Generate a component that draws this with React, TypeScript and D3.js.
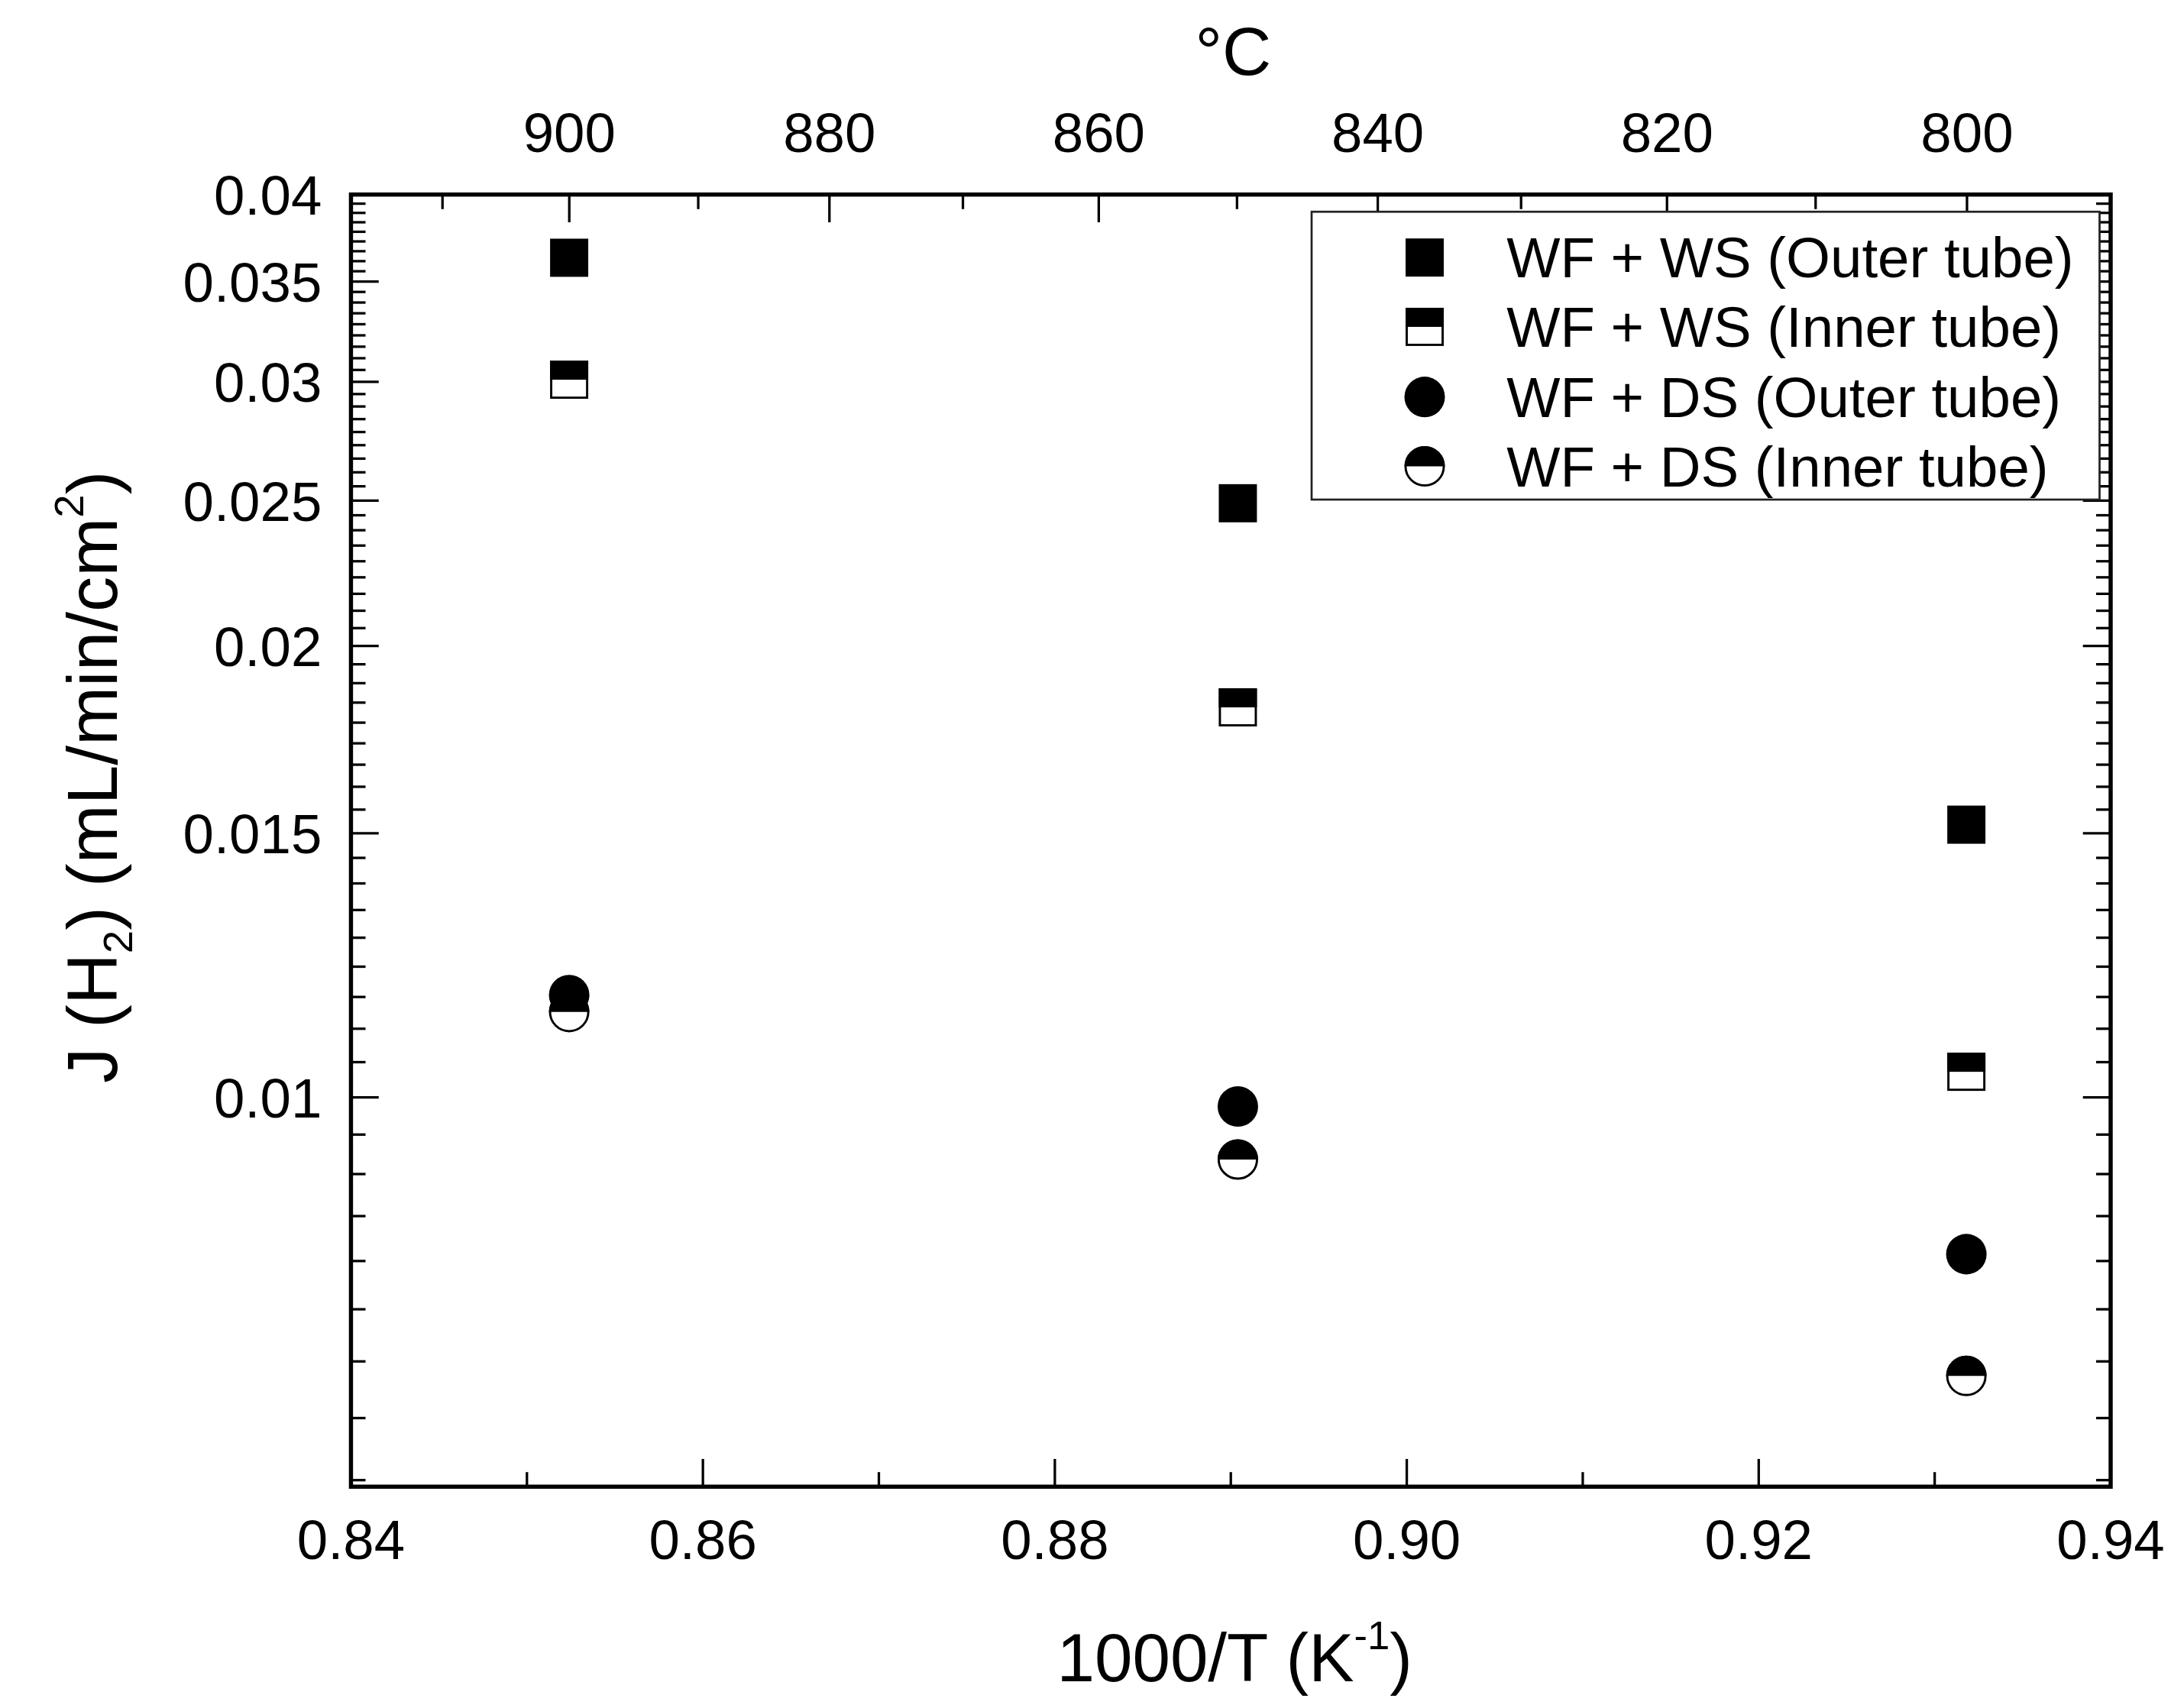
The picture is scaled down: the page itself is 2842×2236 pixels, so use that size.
import React from "react";
import * as d3 from "d3";

// 1000/T (K^-1) for 900, 850 and 800 °C
const invT = [0.8524, 0.8904, 0.9318];

const wsOuter = [0.0363, 0.0249, 0.0152];
const wsInner = [0.0301, 0.0182, 0.0104];
const dsOuter = [0.0117, 0.00986, 0.00786];
const dsInner = [0.0114, 0.00909, 0.00652];

const seriesNames = [
  "WF + WS (Outer tube)",
  "WF + WS (Inner tube)",
  "WF + DS (Outer tube)",
  "WF + DS (Inner tube)",
];
const seriesKinds = ["square", "halfSquare", "circle", "halfCircle"];

const xMajor = [0.84, 0.86, 0.88, 0.9, 0.92, 0.94];
const xMinor = [0.85, 0.87, 0.89, 0.91, 0.93];
const yMajor = [0.01, 0.015, 0.02, 0.025, 0.03, 0.035, 0.04];
const yMajorLabels = ["0.01", "0.015", "0.02", "0.025", "0.03", "0.035", "0.04"];
const cMajor = [900, 880, 860, 840, 820, 800];
const cMinor = [910, 890, 870, 850, 830, 810];

const W = 1565;
const H = 1231;
const FONT = "'Liberation Sans', Arial, Helvetica, sans-serif";

const margin = { left: 253, right: 1521.5, top: 140.1, bottom: 1071.6 };

function Marker({ kind, x, y }: { kind: string; x: number; y: number }) {
  const s = 27.5;
  const r = 14.6;
  const half = d3.arc<any>()({
    innerRadius: 0,
    outerRadius: r,
    startAngle: -Math.PI / 2,
    endAngle: Math.PI / 2,
  } as any) as string;
  if (kind === "square")
    return <rect x={x - s / 2} y={y - s / 2} width={s} height={s} fill="#000" />;
  if (kind === "halfSquare")
    return (
      <g>
        <rect x={x - s / 2 + 0.8} y={y - s / 2 + 0.8} width={s - 1.6} height={s - 1.6} fill="#fff" stroke="#000" strokeWidth={1.6} />
        <rect x={x - s / 2} y={y - s / 2} width={s} height={s / 2} fill="#000" />
      </g>
    );
  if (kind === "circle") return <circle cx={x} cy={y} r={r} fill="#000" />;
  return (
    <g>
      <circle cx={x} cy={y} r={r - 0.8} fill="#fff" stroke="#000" strokeWidth={1.6} />
      <path d={half} transform={`translate(${x},${y})`} fill="#000" />
    </g>
  );
}

export default function App() {
  const x = d3.scaleLinear().domain([0.84, 0.94]).range([margin.left, margin.right]);
  const y = d3.scaleLog().domain([0.0055, 0.04]).range([margin.bottom, margin.top]);
  const xc = (t: number) => x(1000 / (t + 273.15));

  // Origin-style minor ticks: 8 between each pair of majors
  const yMinor: number[] = [];
  const majorsExt = [0.005, ...yMajor];
  for (let i = 0; i < majorsExt.length - 1; i++) {
    const step = (majorsExt[i + 1] - majorsExt[i]) / 9;
    for (let k = 1; k < 9; k++) {
      const v = majorsExt[i] + k * step;
      if (v >= 0.0055 && v <= 0.04) yMinor.push(v);
    }
  }

  const series = [wsOuter, wsInner, dsOuter, dsInner];
  const majorLen = 20;
  const minorLen = 10.5;
  const tickW = 1.8;

  const legendRows = [185.5, 235.5, 286, 336];

  return (
    <div style={{ position: "absolute", left: 0, top: 0, background: "#fff" }}>
      <svg width={2842} height={2236} viewBox={`0 0 ${W} ${H}`} style={{ display: "block" }} fontFamily={FONT}>
        <rect x={0} y={0} width={W} height={H} fill="#fff" />

        {/* ticks */}
        <g stroke="#000" strokeWidth={tickW}>
          {xMajor.map((v, i) => (
            <line key={`xM${i}`} x1={x(v)} x2={x(v)} y1={margin.bottom} y2={margin.bottom - majorLen} />
          ))}
          {xMinor.map((v, i) => (
            <line key={`xm${i}`} x1={x(v)} x2={x(v)} y1={margin.bottom} y2={margin.bottom - minorLen} />
          ))}
          {cMajor.map((t, i) => (
            <line key={`cM${i}`} x1={xc(t)} x2={xc(t)} y1={margin.top} y2={margin.top + majorLen} />
          ))}
          {cMinor.map((t, i) => (
            <line key={`cm${i}`} x1={xc(t)} x2={xc(t)} y1={margin.top} y2={margin.top + minorLen} />
          ))}
          {yMajor.map((v, i) => (
            <g key={`yM${i}`}>
              <line x1={margin.left} x2={margin.left + majorLen} y1={y(v)} y2={y(v)} />
              <line x1={margin.right} x2={margin.right - majorLen} y1={y(v)} y2={y(v)} />
            </g>
          ))}
          {yMinor.map((v, i) => (
            <g key={`ym${i}`}>
              <line x1={margin.left} x2={margin.left + minorLen} y1={y(v)} y2={y(v)} />
              <line x1={margin.right} x2={margin.right - minorLen} y1={y(v)} y2={y(v)} />
            </g>
          ))}
        </g>

        {/* frame */}
        <rect
          x={margin.left}
          y={margin.top}
          width={margin.right - margin.left}
          height={margin.bottom - margin.top}
          fill="none"
          stroke="#000"
          strokeWidth={3}
        />

        {/* tick labels */}
        <g fontSize={40} fill="#000">
          {xMajor.map((v, i) => (
            <text key={`xl${i}`} x={x(v)} y={1124} textAnchor="middle">
              {d3.format(".2f")(v)}
            </text>
          ))}
          {cMajor.map((t, i) => (
            <text key={`cl${i}`} x={xc(t)} y={109.5} textAnchor="middle">
              {t}
            </text>
          ))}
          {yMajor.map((v, i) => (
            <text key={`yl${i}`} x={232} y={y(v) + 14.5} textAnchor="end">
              {yMajorLabels[i]}
            </text>
          ))}
        </g>

        {/* axis titles */}
        <text x={889} y={54} fontSize={49} textAnchor="middle">
          °C
        </text>
        <text x={890} y={1212} fontSize={49} textAnchor="middle">
          1000/T (K<tspan fontSize={29} dy={-23}>-1</tspan>
          <tspan dy={23}>)</tspan>
        </text>
        <text transform="translate(84,560) rotate(-90)" fontSize={51} textAnchor="middle">
          J (H<tspan fontSize={30} dy={11}>2</tspan>
          <tspan dy={-11}>) (mL/min/cm</tspan>
          <tspan fontSize={30} dy={-24}>2</tspan>
          <tspan dy={24}>)</tspan>
        </text>

        {/* data */}
        {series.map((vals, si) =>
          vals.map((v, i) => <Marker key={`p${si}-${i}`} kind={seriesKinds[si]} x={x(invT[i])} y={y(v)} />)
        )}

        {/* legend */}
        <rect x={945.5} y={152.5} width={568} height={207.5} fill="#fff" stroke="#222" strokeWidth={1.5} />
        {seriesNames.map((name, i) => (
          <g key={`lg${i}`}>
            <Marker kind={seriesKinds[i]} x={1027} y={legendRows[i]} />
            <text x={1086} y={legendRows[i] + 14.5} fontSize={41}>
              {name}
            </text>
          </g>
        ))}
      </svg>
    </div>
  );
}
